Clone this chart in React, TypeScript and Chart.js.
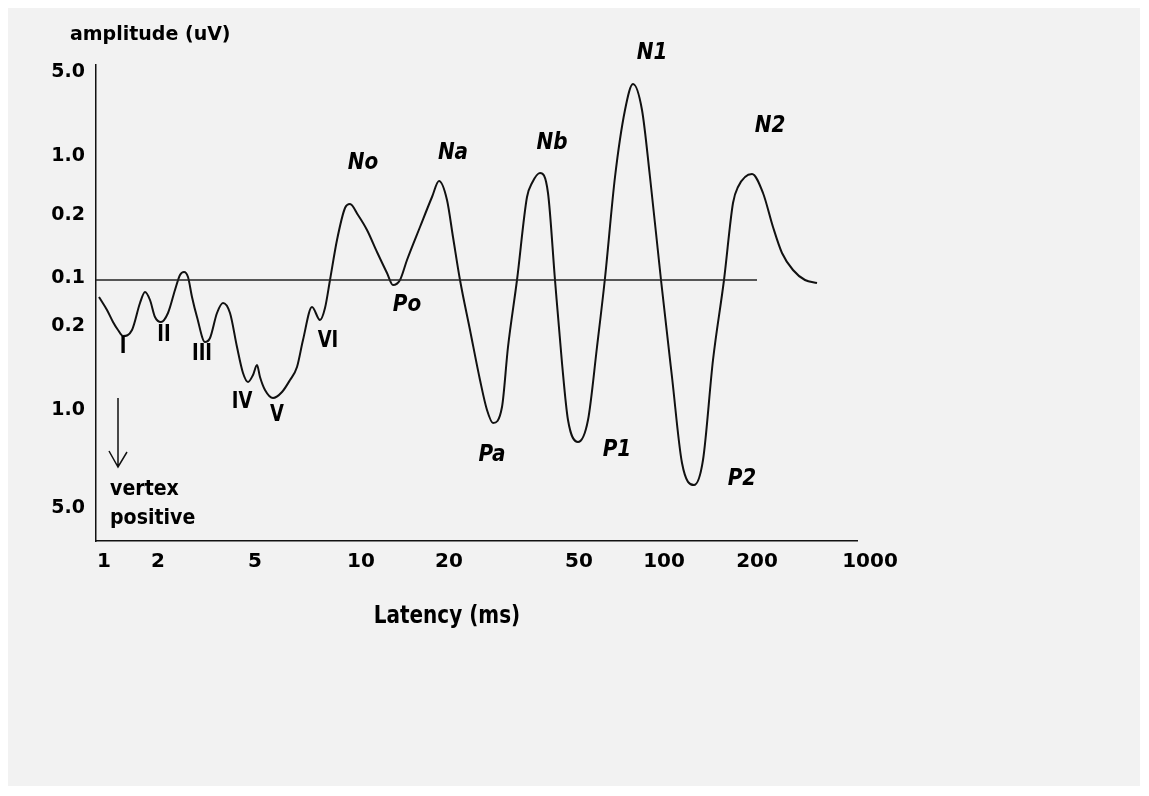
import React, { useEffect, useRef } from 'react';
import { Chart, registerables } from 'chart.js';

Chart.register(...registerables);

// Waveform: x = position along the latency axis, y = amplitude position (up = vertex negative)
const waveX = [
  3, 11, 17, 22, 27, 36, 44, 49, 54, 59,
  65, 72, 79, 84, 88, 92, 96, 101, 109, 114,
  121, 127, 134, 141, 147, 152, 157, 161, 164, 169,
  177, 186, 194, 201, 207, 216, 224, 229, 234, 241,
  249, 254, 262, 271, 281, 291, 297, 304, 311, 324,
  336, 343, 351, 357, 364, 374, 384, 391, 397, 406,
  412, 421, 431, 436, 444, 452, 459, 466, 472, 482,
  492, 501, 509, 519, 529, 537, 546, 554, 565, 576,
  586, 598, 607, 617, 628, 637, 642, 656, 667, 677,
  686, 697, 709, 721,
];
const waveY = [
  -17, -30, -42, -50, -56, -50, -23, -12, -20, -37,
  -42, -33, -10, 5, 8, 3, -17, -37, -62, -58,
  -33, -23, -33, -67, -93, -102, -95, -85, -97, -110,
  -118, -112, -100, -87, -60, -27, -40, -28, 0, 40,
  72, 76, 65, 50, 28, 7, -5, 0, 20, 53,
  83, 99, 80, 43, 0, -50, -100, -130, -143, -127,
  -67, 0, 83, 97, 107, 87, 0, -83, -140, -162,
  -140, -67, 2, 103, 170, 196, 170, 103, 0, -97,
  -183, -205, -180, -80, 0, 77, 93, 106, 87, 53,
  27, 10, 0, -3,
];

// Baseline (0.1 line)
const baselineX = [0, 661];
const baselineY = [0, 0];

// Axis ticks
const xTickValues = [8, 62, 159, 265, 353, 483, 568, 661, 774];
const xTickLabels = ['1', '2', '5', '10', '20', '50', '100', '200', '1000'];
const yTickValues = [208, 124, 65, 2, -46, -130, -228];
const yTickLabels = ['5.0', '1.0', '0.2', '0.1', '0.2', '1.0', '5.0'];

// Annotations
const brainstemLabels = ['I', 'II', 'III', 'IV', 'V', 'VI'];
const brainstemX = [27, 68, 106, 146, 181, 232];
const brainstemY = [-67, -55, -74, -122, -135, -61];
const componentLabels = ['No', 'Na', 'Nb', 'N1', 'N2', 'Po', 'Pa', 'P1', 'P2'];
const componentX = [267, 357, 456, 556, 674, 311, 396, 521, 646];
const componentY = [117, 127, 137, 227, 154, -25, -175, -170, -199];

const FONT = '"DejaVu Sans", "Liberation Sans", sans-serif';

function drawText(
  ctx: CanvasRenderingContext2D,
  text: string,
  x: number,
  y: number,
  font: string,
  stretch: number,
  align: CanvasTextAlign = 'center'
) {
  ctx.save();
  ctx.translate(x, y);
  ctx.scale(1, stretch);
  ctx.font = font;
  ctx.textAlign = align;
  ctx.textBaseline = 'middle';
  ctx.fillStyle = '#000';
  ctx.fillText(text, 0, 0);
  ctx.restore();
}

const annotatePlugin = {
  id: 'annotate',
  afterDraw(chart: any) {
    const { ctx, chartArea } = chart;
    const xs = chart.scales.x;
    const ys = chart.scales.y;
    ctx.save();
    drawText(ctx, 'amplitude (uV)', chartArea.left - 26, chartArea.top - 30, `bold 19px ${FONT}`, 1, 'left');
    drawText(ctx, 'Latency (ms)', xs.getPixelForValue(351), chartArea.bottom + 76, `bold 20px ${FONT}`, 1.2);

    brainstemLabels.forEach((t, i) => {
      drawText(ctx, t, xs.getPixelForValue(brainstemX[i]), ys.getPixelForValue(brainstemY[i]), `bold 18px ${FONT}`, 1.25);
    });
    componentLabels.forEach((t, i) => {
      drawText(ctx, t, xs.getPixelForValue(componentX[i]), ys.getPixelForValue(componentY[i]), `italic bold 20px ${FONT}`, 1.15);
    });

    drawText(ctx, 'vertex', xs.getPixelForValue(14), ys.getPixelForValue(-210), `bold 19px ${FONT}`, 1.1, 'left');
    drawText(ctx, 'positive', xs.getPixelForValue(14), ys.getPixelForValue(-239), `bold 19px ${FONT}`, 1.1, 'left');

    // arrow
    const ax = xs.getPixelForValue(22);
    const ay0 = ys.getPixelForValue(-118);
    const ay1 = ys.getPixelForValue(-187);
    ctx.strokeStyle = '#111';
    ctx.lineWidth = 1.5;
    ctx.beginPath();
    ctx.moveTo(ax, ay0);
    ctx.lineTo(ax, ay1);
    ctx.moveTo(xs.getPixelForValue(13), ys.getPixelForValue(-171));
    ctx.lineTo(ax, ay1);
    ctx.lineTo(xs.getPixelForValue(31), ys.getPixelForValue(-172));
    ctx.stroke();
    ctx.restore();
  },
};

export default function App() {
  const ref = useRef<HTMLCanvasElement>(null);

  useEffect(() => {
    if (!ref.current) return;
    const chart = new Chart(ref.current, {
      type: 'line',
      data: {
        datasets: [
          {
            label: 'baseline',
            data: baselineX.map((x, i) => ({ x, y: baselineY[i] })),
            borderColor: '#222',
            borderWidth: 1.5,
            pointRadius: 0,
            tension: 0,
          },
          {
            label: 'AEP',
            data: waveX.map((x, i) => ({ x, y: waveY[i] })),
            borderColor: '#111',
            borderWidth: 2,
            pointRadius: 0,
            cubicInterpolationMode: 'monotone',
          },
        ],
      },
      options: {
        responsive: false,
        animation: false,
        events: [],
        layout: { padding: { left: 28, top: 57, right: 283, bottom: 165 } },
        plugins: {
          legend: { display: false },
          tooltip: { enabled: false },
          title: { display: false },
        },
        scales: {
          x: {
            type: 'linear',
            position: 'bottom',
            min: 0,
            max: 761,
            grid: { display: false, drawTicks: false },
            border: { display: true, color: '#111', width: 1.5 },
            ticks: {
              autoSkip: false,
              maxRotation: 0,
              padding: 9,
              color: '#000',
              font: { family: FONT, size: 20, weight: 'bold' },
              callback: (v: any) => {
                const idx = xTickValues.indexOf(Number(v));
                return idx >= 0 ? xTickLabels[idx] : '';
              },
            },
            afterBuildTicks: (scale: any) => {
              scale.ticks = xTickValues.map((value) => ({ value }));
            },
            afterFit: (scale: any) => {
              scale.height = 80;
            },
          },
          y: {
            type: 'linear',
            position: 'left',
            min: -261,
            max: 215,
            grid: { display: false, drawTicks: false },
            border: { display: true, color: '#111', width: 1.5 },
            ticks: {
              autoSkip: false,
              padding: 11,
              color: '#000',
              font: { family: FONT, size: 19, weight: 'bold' },
              callback: (v: any) => {
                const idx = yTickValues.indexOf(Number(v));
                return idx >= 0 ? yTickLabels[idx] : '';
              },
            },
            afterBuildTicks: (scale: any) => {
              scale.ticks = yTickValues.map((value) => ({ value }));
            },
            afterFit: (scale: any) => {
              scale.width = 60;
            },
          },
        },
      },
      plugins: [annotatePlugin],
    } as any);
    return () => chart.destroy();
  }, []);

  return (
    <div style={{ width: 1132, height: 778, background: '#f2f2f2' }}>
      <canvas ref={ref} width={1132} height={778} style={{ display: 'block' }} />
    </div>
  );
}
